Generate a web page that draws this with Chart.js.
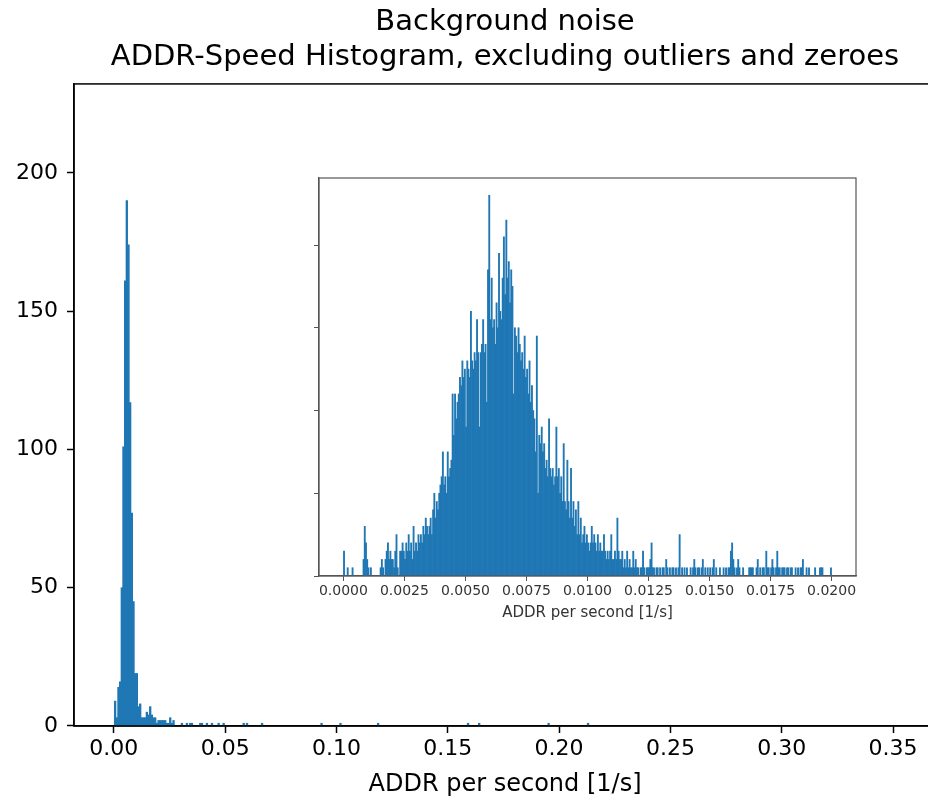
<!DOCTYPE html>
<html>
<head>
<meta charset="utf-8">
<script src="https://cdn.jsdelivr.net/npm/chart.js@4.4.1/dist/chart.umd.min.js"></script>
<style>
  html, body { margin: 0; padding: 0; background: #fff; overflow: hidden; }
  #wrap { position: relative; width: 928px; height: 803px; overflow: hidden; }
  #main { position: absolute; left: 0; top: 0; }
  #inset { position: absolute; left: 270px; top: 160px; }
</style>
</head>
<body>
<div id="wrap">
  <canvas id="main" width="1010" height="803"></canvas>
  <canvas id="inset" width="600" height="470"></canvas>
</div>
<script>
// main histogram: counts per bin, bins start at mainStart
var mainStart = 0.0002;
var mainBinWidth = 0.00075;
var mainCounts = [
  9, 3, 14, 16, 50, 101, 161, 190, 174, 117,
  77, 45, 19, 19, 7, 8, 3, 3, 3, 5,
  4, 7, 4, 3, 3, 1, 2, 2, 2, 2,
  2, 1, 1, 3, 1, 2, 0, 0, 0, 0,
  1, 0, 0, 1, 0, 1, 1, 0, 0, 0,
  0, 1, 1, 0, 0, 1, 0, 0, 1, 0,
  0, 0, 1, 0, 0, 1, 0, 0, 0, 0,
  0, 0, 0, 0, 0, 0, 0, 1, 0, 1,
  0, 0, 0, 0, 0, 0, 0, 0, 1, 0
];
// isolated far bins
var tailX = [0.0933, 0.1018, 0.1187, 0.1591, 0.1641, 0.1953, 0.2130];
var tailCounts = [1, 1, 1, 1, 1, 1, 1];

// inset histogram: 0 .. 0.02
var insetBinWidth = 0.00005;
var insetCounts = [
  3, 0, 0, 1, 0, 0, 0, 1, 0, 0,
  0, 0, 0, 0, 0, 0, 2, 6, 4, 2,
  1, 0, 1, 0, 0, 0, 0, 0, 0, 0,
  1, 2, 1, 0, 2, 3, 4, 2, 3, 2,
  2, 1, 3, 5, 1, 0, 3, 3, 4, 3,
  2, 4, 3, 5, 3, 4, 2, 6, 3, 4,
  3, 5, 4, 5, 4, 6, 5, 7, 6, 5,
  6, 7, 5, 8, 10, 7, 9, 8, 10, 11,
  12, 15, 11, 12, 10, 15, 12, 13, 14, 22,
  17, 22, 19, 21, 22, 24, 23, 26, 24, 25,
  18, 26, 25, 24, 32, 26, 25, 27, 26, 31,
  27, 18, 27, 28, 31, 27, 28, 21, 37, 46,
  31, 36, 30, 31, 28, 33, 30, 39, 32, 31,
  36, 41, 34, 43, 36, 38, 33, 37, 35, 22,
  30, 29, 27, 30, 28, 26, 27, 25, 29, 24,
  25, 22, 26, 21, 23, 20, 19, 15, 29, 10,
  17, 16, 18, 15, 16, 13, 14, 12, 19, 13,
  12, 13, 11, 12, 18, 12, 13, 10, 12, 9,
  16, 9, 8, 14, 9, 7, 13, 7, 9, 6,
  8, 5, 9, 5, 7, 4, 5, 6, 4, 5,
  4, 3, 4, 6, 4, 5, 4, 3, 5, 3,
  4, 3, 3, 5, 3, 2, 3, 2, 3, 5,
  2, 2, 3, 2, 7, 3, 2, 2, 3, 1,
  2, 1, 3, 1, 2, 1, 1, 3, 1, 2,
  1, 1, 0, 1, 1, 3, 1, 0, 1, 1,
  1, 2, 4, 1, 1, 0, 1, 1, 0, 1,
  0, 1, 1, 0, 2, 1, 0, 1, 0, 1,
  1, 0, 1, 0, 1, 5, 0, 1, 0, 1,
  0, 1, 0, 0, 1, 0, 1, 2, 1, 0,
  1, 1, 0, 1, 2, 0, 1, 0, 1, 0,
  1, 0, 1, 2, 0, 1, 0, 0, 1, 0,
  0, 1, 0, 1, 0, 1, 1, 3, 4, 2,
  1, 0, 1, 2, 1, 0, 0, 1, 0, 0,
  0, 0, 1, 1, 1, 1, 0, 0, 1, 2,
  0, 1, 0, 1, 1, 0, 3, 1, 1, 0,
  1, 2, 1, 0, 1, 3, 1, 1, 0, 1,
  1, 1, 0, 1, 1, 0, 1, 1, 0, 0,
  1, 0, 1, 0, 1, 1, 2, 0, 0, 1,
  0, 1, 0, 0, 0, 0, 1, 0, 0, 0,
  1, 1, 1, 0, 0, 0, 0, 0, 0, 1
];

var mainTicks = [0, 0.05, 0.10, 0.15, 0.20, 0.25, 0.30, 0.35];
var insetTicks = [0, 0.0025, 0.005, 0.0075, 0.01, 0.0125, 0.015, 0.0175, 0.02];

var blue = '#1f77b4';
var font = 'DejaVu Sans';

var mainPoints = [];
mainCounts.forEach(function (c, k) {
  if (c > 0) mainPoints.push({ x: mainStart + (k + 0.5) * mainBinWidth, y: c });
});
tailX.forEach(function (x, i) { mainPoints.push({ x: x, y: tailCounts[i] }); });

var insetPoints = [];
insetCounts.forEach(function (c, i) {
  if (c > 0) insetPoints.push({ x: (i + 0.5) * insetBinWidth, y: c });
});

// box around the plot area (matplotlib spines)
var frame = {
  id: 'frame',
  afterDatasetsDraw: function (chart, args, opts) {
    var a = chart.chartArea, ctx = chart.ctx;
    ctx.save();
    ctx.strokeStyle = opts.color;
    ctx.lineWidth = opts.width;
    ctx.strokeRect(a.left, a.top, a.right - a.left, a.bottom - a.top);
    ctx.restore();
  }
};

new Chart('main', {
  type: 'bar',
  data: {
    datasets: [{
      data: mainPoints,
      backgroundColor: blue,
      borderWidth: 0,
      barPercentage: 1,
      categoryPercentage: 1
    }]
  },
  options: {
    responsive: false,
    animation: false,
    layout: { padding: 0 },
    plugins: {
      legend: { display: false },
      tooltip: { enabled: false },
      title: {
        display: true,
        text: ['Background noise', 'ADDR-Speed Histogram, excluding outliers and zeroes'],
        color: '#000',
        font: { family: font, size: 29, weight: 'normal', lineHeight: 1.24 },
        padding: { top: 4, bottom: 8 }
      },
      frame: { color: '#000', width: 1.5 }
    },
    scales: {
      x: {
        type: 'linear',
        min: -0.0179,
        max: 0.3693,
        offset: false,
        border: { display: true, color: '#000', width: 1.5 },
        grid: { offset: false, drawOnChartArea: false, drawTicks: true, tickLength: 7, tickWidth: 1.5, tickColor: '#000' },
        afterBuildTicks: function (s) { s.ticks = mainTicks.map(function (v) { return { value: v }; }); },
        ticks: {
          color: '#000', padding: 3, maxRotation: 0, autoSkip: false,
          font: { family: font, size: 22 },
          callback: function (v) { return v.toFixed(2); }
        },
        title: {
          display: true, text: 'ADDR per second [1/s]', color: '#000',
          font: { family: font, size: 24 }, padding: { top: 0, bottom: 4 }
        },
        afterFit: function (s) { s.height = 77; }
      },
      y: {
        min: 0,
        max: 232.2,
        border: { display: true, color: '#000', width: 1.5 },
        grid: { drawOnChartArea: false, drawTicks: true, tickLength: 7, tickWidth: 1.5, tickColor: '#000' },
        ticks: {
          stepSize: 50, includeBounds: false, color: '#000', padding: 9,
          font: { family: font, size: 22 }
        },
        afterFit: function (s) { s.width = 74; }
      },
      // empty right-hand box so the plot sits between equal margins
      yRight: {
        position: 'right',
        min: 0,
        max: 232.2,
        border: { display: false },
        grid: { display: false },
        ticks: { display: false },
        afterFit: function (s) { s.width = 74; }
      }
    }
  },
  plugins: [frame]
});

new Chart('inset', {
  type: 'bar',
  data: {
    datasets: [{
      data: insetPoints,
      backgroundColor: blue,
      borderWidth: 0,
      barPercentage: 1,
      categoryPercentage: 1
    }]
  },
  options: {
    responsive: false,
    animation: false,
    layout: { padding: { left: 0, right: 14, top: 18, bottom: 0 } },
    plugins: {
      legend: { display: false },
      tooltip: { enabled: false },
      frame: { color: '#555', width: 1.2 }
    },
    scales: {
      x: {
        type: 'linear',
        min: -0.001,
        max: 0.021,
        offset: false,
        border: { display: true, color: '#555', width: 1.2 },
        grid: { offset: false, drawOnChartArea: false, drawTicks: true, tickLength: 5, tickWidth: 1, tickColor: '#555' },
        afterBuildTicks: function (s) { s.ticks = insetTicks.map(function (v) { return { value: v }; }); },
        ticks: {
          color: '#333', padding: 2, maxRotation: 0, autoSkip: false,
          font: { family: font, size: 14 },
          callback: function (v) { return v.toFixed(4); }
        },
        title: {
          display: true, text: 'ADDR per second [1/s]', color: '#333',
          font: { family: font, size: 15 }, padding: { top: 0, bottom: 8 }
        },
        afterFit: function (s) { s.height = 54; }
      },
      y: {
        min: 0,
        max: 48.1,
        border: { display: true, color: '#555', width: 1.2 },
        grid: { drawOnChartArea: false, drawTicks: true, tickLength: 5, tickWidth: 1, tickColor: '#555' },
        ticks: { display: false, stepSize: 10, includeBounds: false },
        afterFit: function (s) { s.width = 49; }
      }
    }
  },
  plugins: [frame]
});
</script>
</body>
</html>
